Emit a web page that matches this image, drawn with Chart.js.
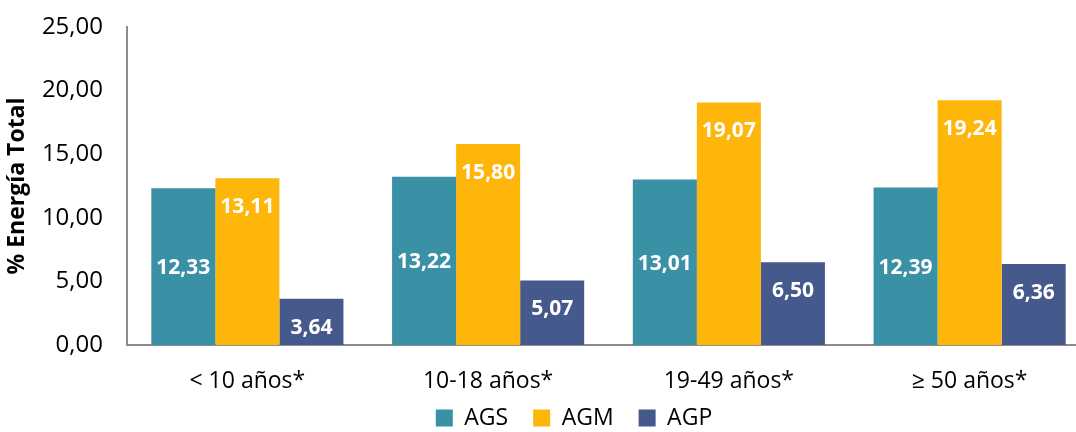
<!DOCTYPE html>
<html><head><meta charset="utf-8">
<script src="https://cdn.jsdelivr.net/npm/chart.js@4/dist/chart.umd.min.js"></script>
<style>html,body{margin:0;padding:0;background:#fff;overflow:hidden}#wrap{width:1076px;height:432px;overflow:hidden;position:relative}</style>
</head><body><div id="wrap"><canvas id="c" width="1090" height="432"></canvas></div>
<script>
const categories = ['< 10 años*', '10-18 años*', '19-49 años*', '≥ 50 años*'];
const ags = [12.33, 13.22, 13.01, 12.39];
const agm = [13.11, 15.80, 19.07, 19.24];
const agp = [3.64, 5.07, 6.50, 6.36];
const seriesNames = ['AGS', 'AGM', 'AGP'];
const yTicks = [0, 5, 10, 15, 20, 25];

const FONT = "'Open Sans', 'Noto Sans', sans-serif";
const fmt = v => v.toFixed(2).replace('.', ',');
const LEGEND_PAD = 25;
const LEGEND_H = 30;

const labelPlugin = {
  id: 'barLabels',
  beforeUpdate(chart) {
    const lg = chart.legend;
    if (lg && !lg._patched) {
      const orig = lg.fit.bind(lg);
      lg.fit = function () { orig(); this.height = LEGEND_H; };
      lg._patched = true;
    }
  },
  afterLayout(chart) {
    const lg = chart.legend;
    if (lg) {
      lg.left += 27; lg.right += 27;
      lg.top = 418 - LEGEND_PAD - 11.5; lg.bottom = chart.height; lg.height = lg.bottom - lg.top;
    }
  },
  afterDatasetsDraw(chart) {
    const ctx = chart.ctx;
    ctx.save();
    ctx.fillStyle = '#ffffff';
    ctx.font = 'bold 21px ' + FONT;
    ctx.textAlign = 'center';
    ctx.textBaseline = 'middle';
    chart.data.datasets.forEach((ds, i) => {
      const meta = chart.getDatasetMeta(i);
      meta.data.forEach((bar, j) => {
        const v = ds.data[j];
        const y = (i === 0) ? (bar.y + bar.base) / 2 + 1.5 : bar.y + 29;
        ctx.fillText(fmt(v), bar.x, y);
      });
    });
    ctx.restore();
  }
};

new Chart(document.getElementById('c'), {
  type: 'bar',
  data: {
    labels: categories,
    datasets: [
      { label: seriesNames[0], data: ags, backgroundColor: '#3A91A6' },
      { label: seriesNames[1], data: agm, backgroundColor: '#FFB60A' },
      { label: seriesNames[2], data: agp, backgroundColor: '#46598C' }
    ]
  },
  options: {
    responsive: false,
    animation: false,
    devicePixelRatio: 1,
    layout: { padding: { top: 27, right: 0, left: 4, bottom: 0 } },
    datasets: { bar: { categoryPercentage: 0.798, barPercentage: 1.0, borderWidth: 0 } },
    scales: {
      x: {
        grid: { display: false, drawTicks: false },
        border: { display: true, color: '#8c8c8c', width: 2 },
        ticks: { color: '#000', font: { family: FONT, size: 23 }, padding: 23 },
        afterFit: s => { s.paddingLeft = 0; s.paddingRight = 0; s.height = 57; }
      },
      y: {
        min: 0, max: 25,
        afterBuildTicks: axis => { axis.ticks = yTicks.map(v => ({ value: v })); },
        grid: { display: false, drawTicks: false },
        border: { display: true, color: '#8c8c8c', width: 2 },
        ticks: { color: '#000', font: { family: FONT, size: 24 }, padding: 24, callback: v => fmt(v) },
        title: { display: true, text: '% Energía Total', color: '#000', font: { family: FONT, size: 23, weight: 'bold' }, padding: { top: 0, bottom: 0 } },
        afterFit: s => { s.width = 123; s.paddingTop = 0; s.paddingBottom = 0; }
      }
    },
    plugins: {
      legend: {
        position: 'bottom',
        labels: { color: '#000', font: { family: FONT, size: 23 }, boxWidth: 17, boxHeight: 17, padding: LEGEND_PAD }
      },
      tooltip: { enabled: false }
    }
  },
  plugins: [labelPlugin]
});
</script></body></html>
